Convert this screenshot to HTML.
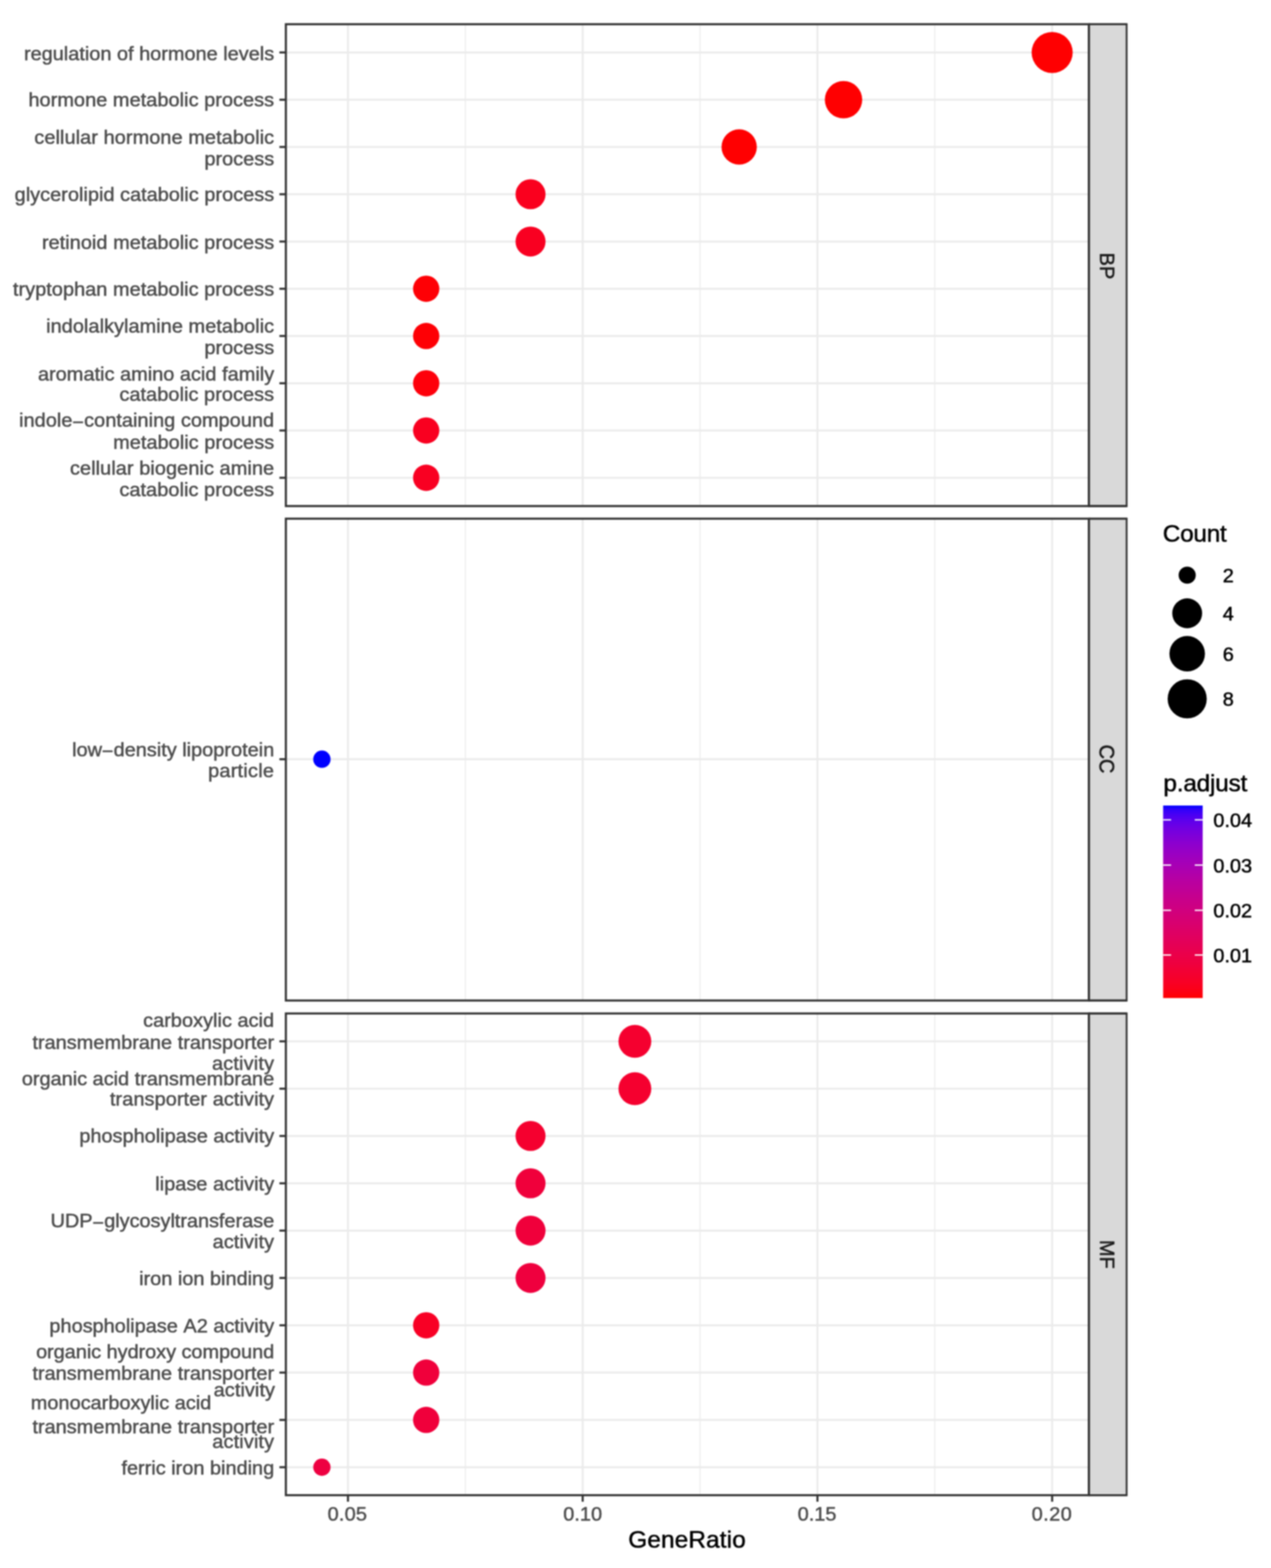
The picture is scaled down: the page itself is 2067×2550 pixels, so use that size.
<!DOCTYPE html>
<html lang="en"><head><meta charset="utf-8"><title>GO enrichment dotplot</title>
<style>
html,body{margin:0;padding:0;background:#fff;}
body{width:2067px;height:2550px;}
svg{display:block;filter:blur(0.80px);}
text{font-family:"Liberation Sans",Arial,Helvetica,sans-serif;font-kerning:none;}
text{stroke-width:0.75px;stroke-linejoin:round;paint-order:stroke;}
.ax{font-size:32.40px;fill:#4D4D4D;stroke:#4D4D4D;}
.lg{font-size:32.40px;fill:#000;stroke:#000;}
.ti{font-size:39.60px;fill:#000;stroke:#000;}
.st{font-size:32.40px;fill:#1A1A1A;stroke:#1A1A1A;}
.gM{stroke:#EBEBEB;stroke-width:3.2;fill:none;}
.gm{stroke:#EBEBEB;stroke-width:1.7;fill:none;}
.tk{stroke:#333;stroke-width:3.4;fill:none;}
.bd{stroke:#333;stroke-width:3.4;fill:none;}
</style></head><body>
<svg width="2067" height="2550" viewBox="0 0 2067 2550" role="img" aria-label="GO enrichment dot plot">
<defs><linearGradient id="pg" x1="0" y1="0" x2="0" y2="1">
<stop offset="0.0000" stop-color="#0000FF"/>
<stop offset="0.0250" stop-color="#3500F9"/>
<stop offset="0.0500" stop-color="#4B00F3"/>
<stop offset="0.0750" stop-color="#5B00ED"/>
<stop offset="0.1000" stop-color="#6800E7"/>
<stop offset="0.1250" stop-color="#7300E0"/>
<stop offset="0.1500" stop-color="#7C00DA"/>
<stop offset="0.1750" stop-color="#8500D4"/>
<stop offset="0.2000" stop-color="#8D00CE"/>
<stop offset="0.2250" stop-color="#9400C8"/>
<stop offset="0.2500" stop-color="#9A00C3"/>
<stop offset="0.2750" stop-color="#A000BD"/>
<stop offset="0.3000" stop-color="#A600B7"/>
<stop offset="0.3250" stop-color="#AB00B1"/>
<stop offset="0.3500" stop-color="#B000AB"/>
<stop offset="0.3750" stop-color="#B500A5"/>
<stop offset="0.4000" stop-color="#BA009F"/>
<stop offset="0.4250" stop-color="#BE009A"/>
<stop offset="0.4500" stop-color="#C20094"/>
<stop offset="0.4750" stop-color="#C6008E"/>
<stop offset="0.5000" stop-color="#CA0088"/>
<stop offset="0.5250" stop-color="#CD0083"/>
<stop offset="0.5500" stop-color="#D1007D"/>
<stop offset="0.5750" stop-color="#D40077"/>
<stop offset="0.6000" stop-color="#D70072"/>
<stop offset="0.6250" stop-color="#DA006C"/>
<stop offset="0.6500" stop-color="#DD0066"/>
<stop offset="0.6750" stop-color="#E00061"/>
<stop offset="0.7000" stop-color="#E3005B"/>
<stop offset="0.7250" stop-color="#E50055"/>
<stop offset="0.7500" stop-color="#E80050"/>
<stop offset="0.7750" stop-color="#EB004A"/>
<stop offset="0.8000" stop-color="#ED0044"/>
<stop offset="0.8250" stop-color="#EF003E"/>
<stop offset="0.8500" stop-color="#F20037"/>
<stop offset="0.8750" stop-color="#F40031"/>
<stop offset="0.9000" stop-color="#F6002A"/>
<stop offset="0.9250" stop-color="#F90023"/>
<stop offset="0.9500" stop-color="#FB001A"/>
<stop offset="0.9750" stop-color="#FD000F"/>
<stop offset="1.0000" stop-color="#FF0000"/>
</linearGradient></defs>
<rect x="0" y="0" width="2067" height="2550" fill="#FFFFFF"/>
<g id="panel-BP">
<line class="gm" x1="756.8" x2="756.8" y1="39.4" y2="823.0"/>
<line class="gm" x1="1138.5" x2="1138.5" y1="39.4" y2="823.0"/>
<line class="gm" x1="1520.2" x2="1520.2" y1="39.4" y2="823.0"/>
<line class="gM" x1="565.9" x2="565.9" y1="39.4" y2="823.0"/>
<line class="gM" x1="947.6" x2="947.6" y1="39.4" y2="823.0"/>
<line class="gM" x1="1329.4" x2="1329.4" y1="39.4" y2="823.0"/>
<line class="gM" x1="1711.1" x2="1711.1" y1="39.4" y2="823.0"/>
<line class="gM" x1="464.9" x2="1770.8" y1="85.3" y2="85.3"/>
<line class="gM" x1="464.9" x2="1770.8" y1="162.2" y2="162.2"/>
<line class="gM" x1="464.9" x2="1770.8" y1="239.0" y2="239.0"/>
<line class="gM" x1="464.9" x2="1770.8" y1="315.9" y2="315.9"/>
<line class="gM" x1="464.9" x2="1770.8" y1="392.8" y2="392.8"/>
<line class="gM" x1="464.9" x2="1770.8" y1="469.6" y2="469.6"/>
<line class="gM" x1="464.9" x2="1770.8" y1="546.4" y2="546.4"/>
<line class="gM" x1="464.9" x2="1770.8" y1="623.3" y2="623.3"/>
<line class="gM" x1="464.9" x2="1770.8" y1="700.1" y2="700.1"/>
<line class="gM" x1="464.9" x2="1770.8" y1="777.0" y2="777.0"/>
<circle cx="1711.1" cy="85.3" r="33.4" fill="#FF0001"/>
<circle cx="1371.8" cy="162.2" r="30.4" fill="#FF0001"/>
<circle cx="1202.1" cy="239.0" r="28.7" fill="#FF0001"/>
<circle cx="862.8" cy="315.9" r="24.4" fill="#FA001E"/>
<circle cx="862.8" cy="392.8" r="24.4" fill="#F90021"/>
<circle cx="693.1" cy="469.6" r="21.4" fill="#FE0005"/>
<circle cx="693.1" cy="546.4" r="21.4" fill="#FE0005"/>
<circle cx="693.1" cy="623.3" r="21.4" fill="#FE000B"/>
<circle cx="693.1" cy="700.1" r="21.4" fill="#F90020"/>
<circle cx="693.1" cy="777.0" r="21.4" fill="#F90022"/>
<rect x="1770.8" y="39.4" width="61.4" height="783.6" fill="#D9D9D9" stroke="#333" stroke-width="3.0"/>
<line class="bd" x1="1770.8" x2="1833.2" y1="39.4" y2="39.4"/>
<line class="bd" x1="1770.8" x2="1833.2" y1="823.0" y2="823.0"/>
<rect class="bd" x="464.9" y="39.4" width="1305.9" height="783.6"/>
<text class="st" text-anchor="middle" transform="translate(1789.30 432.40) rotate(90) scale(1 1.030)">BP</text>
<line class="tk" x1="454.4" x2="464.9" y1="85.3" y2="85.3"/>
<text class="ax" text-anchor="end" transform="translate(445.90 97.75) scale(1 0.950)">regulation of hormone levels</text>
<line class="tk" x1="454.4" x2="464.9" y1="162.2" y2="162.2"/>
<text class="ax" text-anchor="end" style="letter-spacing:0.071px" transform="translate(445.90 173.10) scale(1 0.950)">hormone metabolic process</text>
<line class="tk" x1="454.4" x2="464.9" y1="239.0" y2="239.0"/>
<text class="ax" text-anchor="end" style="letter-spacing:0.112px" transform="translate(445.90 233.55) scale(1 0.950)">cellular hormone metabolic</text>
<text class="ax" text-anchor="end" transform="translate(445.90 269.45) scale(1 0.950)">process</text>
<line class="tk" x1="454.4" x2="464.9" y1="315.9" y2="315.9"/>
<text class="ax" text-anchor="end" style="letter-spacing:0.024px" transform="translate(445.90 327.40) scale(1 0.950)">glycerolipid catabolic process</text>
<line class="tk" x1="454.4" x2="464.9" y1="392.8" y2="392.8"/>
<text class="ax" text-anchor="end" style="letter-spacing:0.056px" transform="translate(445.90 404.65) scale(1 0.950)">retinoid metabolic process</text>
<line class="tk" x1="454.4" x2="464.9" y1="469.6" y2="469.6"/>
<text class="ax" text-anchor="end" style="letter-spacing:0.063px" transform="translate(445.90 480.60) scale(1 0.950)">tryptophan metabolic process</text>
<line class="tk" x1="454.4" x2="464.9" y1="546.4" y2="546.4"/>
<text class="ax" text-anchor="end" style="letter-spacing:0.071px" transform="translate(445.90 540.95) scale(1 0.950)">indolalkylamine metabolic</text>
<text class="ax" text-anchor="end" transform="translate(445.90 576.15) scale(1 0.950)">process</text>
<line class="tk" x1="454.4" x2="464.9" y1="623.3" y2="623.3"/>
<text class="ax" text-anchor="end" style="letter-spacing:0.028px" transform="translate(445.90 619.00) scale(1 0.950)">aromatic amino acid family</text>
<text class="ax" text-anchor="end" style="letter-spacing:0.087px" transform="translate(445.90 652.30) scale(1 0.950)">catabolic process</text>
<line class="tk" x1="454.4" x2="464.9" y1="700.1" y2="700.1"/>
<text class="ax" text-anchor="end" style="letter-spacing:0.060px" transform="translate(445.90 693.95) scale(1 0.950)">indole<tspan dy="2.70">−</tspan><tspan dy="-2.70">containing compound</tspan></text>
<text class="ax" text-anchor="end" style="letter-spacing:0.044px" transform="translate(445.90 729.55) scale(1 0.950)">metabolic process</text>
<line class="tk" x1="454.4" x2="464.9" y1="777.0" y2="777.0"/>
<text class="ax" text-anchor="end" style="letter-spacing:0.114px" transform="translate(445.90 771.50) scale(1 0.950)">cellular biogenic amine</text>
<text class="ax" text-anchor="end" style="letter-spacing:0.087px" transform="translate(445.90 807.20) scale(1 0.950)">catabolic process</text>
</g>
<g id="panel-CC">
<line class="gm" x1="756.8" x2="756.8" y1="843.5" y2="1627.1"/>
<line class="gm" x1="1138.5" x2="1138.5" y1="843.5" y2="1627.1"/>
<line class="gm" x1="1520.2" x2="1520.2" y1="843.5" y2="1627.1"/>
<line class="gM" x1="565.9" x2="565.9" y1="843.5" y2="1627.1"/>
<line class="gM" x1="947.6" x2="947.6" y1="843.5" y2="1627.1"/>
<line class="gM" x1="1329.4" x2="1329.4" y1="843.5" y2="1627.1"/>
<line class="gM" x1="1711.1" x2="1711.1" y1="843.5" y2="1627.1"/>
<line class="gM" x1="464.9" x2="1770.8" y1="1234.7" y2="1234.7"/>
<circle cx="523.5" cy="1234.7" r="14.1" fill="#0000FF"/>
<rect x="1770.8" y="843.5" width="61.4" height="783.6" fill="#D9D9D9" stroke="#333" stroke-width="3.0"/>
<line class="bd" x1="1770.8" x2="1833.2" y1="843.5" y2="843.5"/>
<line class="bd" x1="1770.8" x2="1833.2" y1="1627.1" y2="1627.1"/>
<rect class="bd" x="464.9" y="843.5" width="1305.9" height="783.6"/>
<text class="st" text-anchor="middle" transform="translate(1788.00 1234.30) rotate(90) scale(1 1.110)">CC</text>
<line class="tk" x1="454.4" x2="464.9" y1="1234.7" y2="1234.7"/>
<text class="ax" text-anchor="end" transform="translate(445.90 1229.80) scale(1 0.950)">low<tspan dy="2.70">−</tspan><tspan dy="-2.70">density lipoprotein</tspan></text>
<text class="ax" text-anchor="end" style="letter-spacing:0.386px" transform="translate(445.90 1263.50) scale(1 0.950)">particle</text>
</g>
<g id="panel-MF">
<line class="gm" x1="756.8" x2="756.8" y1="1648.2" y2="2431.6"/>
<line class="gm" x1="1138.5" x2="1138.5" y1="1648.2" y2="2431.6"/>
<line class="gm" x1="1520.2" x2="1520.2" y1="1648.2" y2="2431.6"/>
<line class="gM" x1="565.9" x2="565.9" y1="1648.2" y2="2431.6"/>
<line class="gM" x1="947.6" x2="947.6" y1="1648.2" y2="2431.6"/>
<line class="gM" x1="1329.4" x2="1329.4" y1="1648.2" y2="2431.6"/>
<line class="gM" x1="1711.1" x2="1711.1" y1="1648.2" y2="2431.6"/>
<line class="gM" x1="464.9" x2="1770.8" y1="1693.5" y2="1693.5"/>
<line class="gM" x1="464.9" x2="1770.8" y1="1770.5" y2="1770.5"/>
<line class="gM" x1="464.9" x2="1770.8" y1="1847.4" y2="1847.4"/>
<line class="gM" x1="464.9" x2="1770.8" y1="1924.4" y2="1924.4"/>
<line class="gM" x1="464.9" x2="1770.8" y1="2001.3" y2="2001.3"/>
<line class="gM" x1="464.9" x2="1770.8" y1="2078.3" y2="2078.3"/>
<line class="gM" x1="464.9" x2="1770.8" y1="2155.3" y2="2155.3"/>
<line class="gM" x1="464.9" x2="1770.8" y1="2232.2" y2="2232.2"/>
<line class="gM" x1="464.9" x2="1770.8" y1="2309.2" y2="2309.2"/>
<line class="gM" x1="464.9" x2="1770.8" y1="2386.1" y2="2386.1"/>
<circle cx="1032.5" cy="1693.5" r="26.7" fill="#F5002F"/>
<circle cx="1032.5" cy="1770.5" r="26.7" fill="#F5002F"/>
<circle cx="862.8" cy="1847.4" r="24.4" fill="#F5002F"/>
<circle cx="862.8" cy="1924.4" r="24.4" fill="#F0003B"/>
<circle cx="862.8" cy="2001.3" r="24.4" fill="#F0003B"/>
<circle cx="862.8" cy="2078.3" r="24.4" fill="#EF003E"/>
<circle cx="693.1" cy="2155.3" r="21.4" fill="#F80025"/>
<circle cx="693.1" cy="2232.2" r="21.4" fill="#F0003B"/>
<circle cx="693.1" cy="2309.2" r="21.4" fill="#F0003B"/>
<circle cx="523.5" cy="2386.1" r="14.1" fill="#EE0041"/>
<rect x="1770.8" y="1648.2" width="61.4" height="783.4" fill="#D9D9D9" stroke="#333" stroke-width="3.0"/>
<line class="bd" x1="1770.8" x2="1833.2" y1="1648.2" y2="1648.2"/>
<line class="bd" x1="1770.8" x2="1833.2" y1="2431.6" y2="2431.6"/>
<rect class="bd" x="464.9" y="1648.2" width="1305.9" height="783.4"/>
<text class="st" text-anchor="middle" transform="translate(1789.30 2039.90) rotate(90) scale(1 1.030)">MF</text>
<line class="tk" x1="454.4" x2="464.9" y1="1693.5" y2="1693.5"/>
<text class="ax" text-anchor="end" style="letter-spacing:0.050px" transform="translate(445.90 1670.00) scale(1 0.950)">carboxylic acid</text>
<text class="ax" text-anchor="end" style="letter-spacing:0.029px" transform="translate(445.90 1705.50) scale(1 0.950)">transmembrane transporter</text>
<text class="ax" text-anchor="end" style="letter-spacing:0.257px" transform="translate(445.90 1740.20) scale(1 0.950)">activity</text>
<line class="tk" x1="454.4" x2="464.9" y1="1770.5" y2="1770.5"/>
<text class="ax" text-anchor="end" transform="translate(445.90 1764.96) scale(1 0.950)">organic acid transmembrane</text>
<text class="ax" text-anchor="end" style="letter-spacing:0.126px" transform="translate(445.90 1798.06) scale(1 0.950)">transporter activity</text>
<line class="tk" x1="454.4" x2="464.9" y1="1847.4" y2="1847.4"/>
<text class="ax" text-anchor="end" transform="translate(445.90 1858.22) scale(1 0.950)">phospholipase activity</text>
<line class="tk" x1="454.4" x2="464.9" y1="1924.4" y2="1924.4"/>
<text class="ax" text-anchor="end" style="letter-spacing:0.050px" transform="translate(445.90 1936.38) scale(1 0.950)">lipase activity</text>
<line class="tk" x1="454.4" x2="464.9" y1="2001.3" y2="2001.3"/>
<text class="ax" text-anchor="end" style="letter-spacing:-0.041px" transform="translate(445.90 1996.24) scale(1 0.950)">UDP<tspan dy="2.70">−</tspan><tspan dy="-2.70">glycosyltransferase</tspan></text>
<text class="ax" text-anchor="end" style="letter-spacing:0.143px" transform="translate(445.90 2030.34) scale(1 0.950)">activity</text>
<line class="tk" x1="454.4" x2="464.9" y1="2078.3" y2="2078.3"/>
<text class="ax" text-anchor="end" transform="translate(445.90 2090.40) scale(1 0.950)">iron ion binding</text>
<line class="tk" x1="454.4" x2="464.9" y1="2155.3" y2="2155.3"/>
<text class="ax" text-anchor="end" transform="translate(445.90 2166.76) scale(1 0.950)">phospholipase A2 activity</text>
<line class="tk" x1="454.4" x2="464.9" y1="2232.2" y2="2232.2"/>
<text class="ax" text-anchor="end" style="letter-spacing:-0.070px" transform="translate(445.90 2209.40) scale(1 0.950)">organic hydroxy compound</text>
<text class="ax" text-anchor="end" style="letter-spacing:0.029px" transform="translate(445.90 2244.10) scale(1 0.950)">transmembrane transporter</text>
<text class="ax" text-anchor="end" style="letter-spacing:0.100px" transform="translate(447.30 2270.70) scale(1 0.950)">activity</text>
<line class="tk" x1="454.4" x2="464.9" y1="2309.2" y2="2309.2"/>
<text class="ax" text-anchor="end" transform="translate(343.60 2292.35) scale(1 0.950)">monocarboxylic acid</text>
<text class="ax" text-anchor="end" style="letter-spacing:0.029px" transform="translate(445.90 2330.95) scale(1 0.950)">transmembrane transporter</text>
<text class="ax" text-anchor="end" style="letter-spacing:0.200px" transform="translate(445.90 2355.10) scale(1 0.950)">activity</text>
<line class="tk" x1="454.4" x2="464.9" y1="2386.1" y2="2386.1"/>
<text class="ax" text-anchor="end" transform="translate(445.90 2397.64) scale(1 0.950)">ferric iron binding</text>
</g>
<g id="x-axis">
<line class="tk" x1="565.9" x2="565.9" y1="2431.6" y2="2442.2"/>
<text class="ax" text-anchor="middle" style="letter-spacing:0.300px" transform="translate(564.90 2472.90) scale(1 0.950)">0.05</text>
<line class="tk" x1="947.6" x2="947.6" y1="2431.6" y2="2442.2"/>
<text class="ax" text-anchor="middle" transform="translate(947.63 2472.90) scale(1 0.950)">0.10</text>
<line class="tk" x1="1329.4" x2="1329.4" y1="2431.6" y2="2442.2"/>
<text class="ax" text-anchor="middle" transform="translate(1328.77 2472.90) scale(1 0.950)">0.15</text>
<line class="tk" x1="1711.1" x2="1711.1" y1="2431.6" y2="2442.2"/>
<text class="ax" text-anchor="middle" style="letter-spacing:0.800px" transform="translate(1710.80 2472.90) scale(1 0.950)">0.20</text>
<text class="ti" text-anchor="middle" style="letter-spacing:0.225px" transform="translate(1117.40 2516.80) scale(1 0.970)">GeneRatio</text>
</g>
<g id="legend-count">
<text class="ti" style="letter-spacing:-0.400px" transform="translate(1891.00 880.50) scale(1 0.970)">Count</text>
<circle cx="1930.7" cy="935.4" r="13.9" fill="#000"/>
<text class="lg" transform="translate(1988.40 946.80) scale(1 0.950)">2</text>
<circle cx="1930.7" cy="997.4" r="24.3" fill="#000"/>
<text class="lg" transform="translate(1988.40 1008.80) scale(1 0.950)">4</text>
<circle cx="1930.7" cy="1063.1" r="28.9" fill="#000"/>
<text class="lg" transform="translate(1988.40 1074.50) scale(1 0.950)">6</text>
<circle cx="1930.7" cy="1136.5" r="31.8" fill="#000"/>
<text class="lg" transform="translate(1988.40 1147.90) scale(1 0.950)">8</text>
</g>
<g id="legend-padjust">
<text class="ti" style="letter-spacing:-0.314px" transform="translate(1892.00 1287.30) scale(1 0.970)">p.adjust</text>
<rect x="1891.6" y="1310.0" width="64.3" height="313.1" fill="url(#pg)"/>
<line x1="1891.6" x2="1904.5" y1="1333.3" y2="1333.3" stroke="#fff" stroke-width="2.2"/>
<line x1="1943.0" x2="1955.9" y1="1333.3" y2="1333.3" stroke="#fff" stroke-width="2.2"/>
<text class="lg" transform="translate(1973.20 1344.90) scale(1 0.950)">0.04</text>
<line x1="1891.6" x2="1904.5" y1="1406.9" y2="1406.9" stroke="#fff" stroke-width="2.2"/>
<line x1="1943.0" x2="1955.9" y1="1406.9" y2="1406.9" stroke="#fff" stroke-width="2.2"/>
<text class="lg" transform="translate(1973.20 1418.50) scale(1 0.950)">0.03</text>
<line x1="1891.6" x2="1904.5" y1="1480.4" y2="1480.4" stroke="#fff" stroke-width="2.2"/>
<line x1="1943.0" x2="1955.9" y1="1480.4" y2="1480.4" stroke="#fff" stroke-width="2.2"/>
<text class="lg" transform="translate(1973.20 1492.00) scale(1 0.950)">0.02</text>
<line x1="1891.6" x2="1904.5" y1="1553.1" y2="1553.1" stroke="#fff" stroke-width="2.2"/>
<line x1="1943.0" x2="1955.9" y1="1553.1" y2="1553.1" stroke="#fff" stroke-width="2.2"/>
<text class="lg" transform="translate(1973.20 1564.70) scale(1 0.950)">0.01</text>
</g>
</svg>
</body></html>
